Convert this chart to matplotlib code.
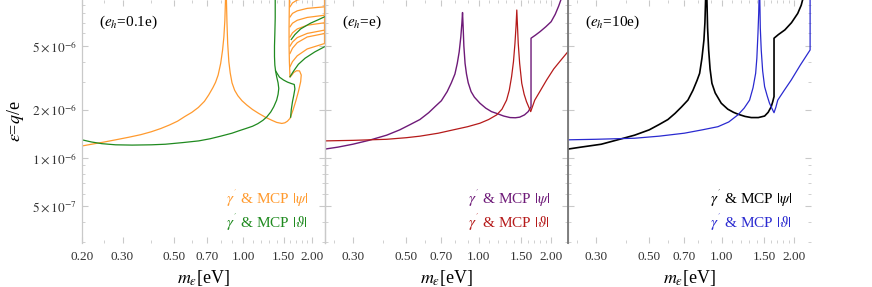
import numpy as np
import matplotlib.pyplot as plt
from matplotlib.ticker import FixedLocator, FuncFormatter, NullFormatter

plt.rcParams['font.family'] = ['Liberation Serif', 'DejaVu Serif']
plt.rcParams['mathtext.fontset'] = 'stix'

TOP = 1e-5  # curves that run off the top of the frame
u = 1e-6

# ---- panel 1 : e_h = 0.1 e ----
psi1_left_m = [0.2, 0.2, 0.22, 0.25, 0.28, 0.32, 0.36, 0.40, 0.44, 0.48, 0.52, 0.56, 0.60, 0.64,
               0.68, 0.71, 0.74, 0.76, 0.78, 0.80, 0.815, 0.826, 0.834, 0.840]
psi1_left_e = [TOP / u, 1.19, 1.22, 1.26, 1.30, 1.35, 1.40, 1.46, 1.53, 1.61, 1.70, 1.82, 1.93, 2.07,
               2.26, 2.48, 2.75, 2.97, 3.3, 3.9, 4.7, 5.7, 7.2, TOP / u]
psi1_right_m = [0.847, 0.852, 0.858, 0.868, 0.88, 0.896, 0.92, 0.95, 0.99, 1.04, 1.10, 1.17, 1.25,
                1.336, 1.40, 1.474, 1.52, 1.56, 1.60,
                1.65, 1.70, 1.74, 1.78, 1.79, 1.76, 1.71, 1.66, 1.63, 1.60, 1.59, 1.585, 1.585, 1.59]
psi1_right_e = [TOP / u, 7.0, 5.2, 4.0, 3.4, 2.95, 2.65, 2.45, 2.28, 2.14, 2.01, 1.90, 1.80,
                1.72, 1.67, 1.645, 1.66, 1.70, 1.77,
                2.0, 2.3, 2.6, 3.0, 3.3, 3.5, 3.51, 3.42, 3.3, 3.2, 4.0, 5.0, 6.5, TOP / u]
psi1_fan_m = [1.60, 1.64, 1.72, 1.90, 2.27]
psi1_fan_e = [[3.72, 4.0, 4.35, 4.8, 5.2],
              [4.5, 4.85, 5.25, 5.7, 6.0],
              [5.0, 5.3, 5.65, 6.0, 6.3],
              [5.7, 6.05, 6.4, 6.75, 7.0],
              [6.6, 6.95, 7.25, 7.55, 7.8],
              [7.6, 8.0, 8.3, 8.6, 8.8],
              [8.8, 9.3, 9.7, TOP / u, TOP / u]]
psi1_edge_m = [2.265, 2.265]
psi1_edge_e = [5.2, TOP / u]

th1_main_m = [0.20, 0.22, 0.244, 0.28, 0.33, 0.40, 0.46, 0.55, 0.642, 0.72, 0.80, 0.896, 0.96, 1.03,
              1.10, 1.16, 1.22, 1.27, 1.32, 1.36, 1.40, 1.42, 1.43, 1.42, 1.40, 1.385, 1.375, 1.37,
              1.37, 1.375, 1.38, 1.38]
th1_main_e = [1.30, 1.26, 1.23, 1.21, 1.205, 1.21, 1.22, 1.25, 1.28, 1.32, 1.37, 1.43, 1.48, 1.53,
              1.58, 1.64, 1.72, 1.81, 1.94, 2.09, 2.30, 2.50, 2.72, 2.95, 3.22, 3.5, 3.8, 4.3,
              5.0, 6.0, 7.5, TOP / u]
th1_loop_m = [1.385, 1.44, 1.50, 1.56, 1.62, 1.67, 1.68, 1.66, 1.64, 1.62, 1.61]
th1_loop_e = [3.5, 3.2, 3.07, 2.98, 2.92, 2.88, 2.7, 2.45, 2.25, 2.0, 1.8]
th1_fan_m = [[1.60, 1.66, 1.74, 1.86, 2.05, 2.27], [1.62, 1.68, 1.78, 1.96, 2.12, 2.27]]
th1_fan_e = [[3.22, 3.5, 3.85, 4.2, 4.6, 4.97], [5.5, 5.9, 6.4, 6.94, 7.3, 7.64]]

# ---- panel 2 : e_h = e ----
psi2_m = [0.23, 0.26, 0.30, 0.35, 0.415, 0.47, 0.52, 0.57, 0.62, 0.66, 0.70, 0.74, 0.77, 0.797,
          0.815, 0.83, 0.843, 0.852, 0.857, 0.862, 0.868, 0.878, 0.89, 0.905, 0.93, 0.96, 1.012,
          1.07, 1.13, 1.188, 1.27, 1.35, 1.42, 1.48, 1.55, 1.606, 1.65,
          1.65, 1.72, 1.80, 1.90, 2.00, 2.08, 2.15, 2.21]
psi2_e = [1.138, 1.17, 1.22, 1.29, 1.39, 1.50, 1.62, 1.74, 1.92, 2.10, 2.28, 2.60, 2.95, 3.35,
          3.9, 4.6, 5.7, 7.0, 8.1, 6.6, 5.0, 3.9, 3.35, 2.95, 2.60, 2.40, 2.20,
          2.05, 1.95, 1.90, 1.83, 1.79, 1.785, 1.80, 1.86, 1.95, 2.09,
          5.6, 5.85, 6.16, 6.6, 7.1, 7.9, 8.9, TOP / u]
th2_m = [0.23, 0.30, 0.415, 0.50, 0.57, 0.68, 0.784, 0.90, 1.012, 1.10, 1.188, 1.25, 1.306, 1.34,
         1.37, 1.395, 1.415, 1.43, 1.44, 1.45, 1.46, 1.48, 1.51, 1.545, 1.58, 1.615, 1.645,
         1.67, 1.71, 1.80, 1.915, 2.05, 2.20, 2.35]
th2_e = [1.28, 1.29, 1.31, 1.34, 1.37, 1.43, 1.50, 1.57, 1.65, 1.74, 1.86, 2.02, 2.30, 2.65,
         3.22, 4.0, 5.2, 6.7, 8.4, 6.6, 5.2, 3.9, 2.93, 2.5, 2.25, 2.08, 1.95,
         2.08, 2.30, 2.62, 3.07, 3.6, 4.1, 4.62]

# ---- panel 3 : e_h = 10 e ----
psi3_m = [0.23, 0.26, 0.316, 0.37, 0.435, 0.50, 0.55, 0.598, 0.64, 0.68, 0.724, 0.76, 0.79, 0.81,
          0.828, 0.844, 0.852, 0.858, 0.868, 0.874, 0.883, 0.895, 0.911, 0.94, 0.996, 1.06, 1.12,
          1.168, 1.25, 1.327, 1.42, 1.508, 1.56, 1.606, 1.63, 1.65,
          1.65, 1.72, 1.83, 1.95, 2.07, 2.14, 2.18]
psi3_e = [1.138, 1.17, 1.22, 1.30, 1.39, 1.50, 1.62, 1.74, 1.90, 2.08, 2.30, 2.65, 3.05, 3.38,
          4.2, 5.46, 7.0, TOP / u, TOP / u, 6.5, 4.73, 3.6, 2.93, 2.55, 2.20, 2.02, 1.93,
          1.88, 1.82, 1.79, 1.79, 1.83, 1.93, 2.09, 2.25, 2.42,
          5.6, 5.9, 6.31, 7.0, 8.0, 9.0, TOP / u]
th3_m = [0.23, 0.30, 0.435, 0.55, 0.70, 0.83, 0.965, 1.07, 1.168, 1.24, 1.306, 1.35, 1.384, 1.40,
         1.415, 1.425, 1.43, 1.44, 1.447, 1.46, 1.48, 1.508, 1.545, 1.58, 1.62, 1.65,
         1.68, 1.71, 1.82, 1.945, 2.12, 2.33, 2.33]
th3_e = [1.30, 1.31, 1.33, 1.37, 1.43, 1.50, 1.57, 1.68, 1.86, 2.05, 2.30, 2.75, 3.38, 4.2,
         6.0, 8.0, TOP / u, TOP / u, 6.5, 4.73, 3.5, 2.79, 2.45, 2.20, 2.03, 1.92,
         2.08, 2.30, 2.65, 3.07, 3.8, 4.73, TOP / u]

xticks = [0.2, 0.3, 0.5, 0.7, 1.0, 1.5, 2.0]
xminor = [0.25, 0.4, 0.6, 0.8, 0.9, 1.1, 1.2, 1.3, 1.4, 1.6, 1.7, 1.8, 1.9]
yticks = [5e-7, 1e-6, 2e-6, 5e-6]
yticklabels = [r'$5\times10^{-7}$', r'$1\times10^{-6}$', r'$2\times10^{-6}$', r'$5\times10^{-6}$']
yminor = [3e-7, 4e-7, 6e-7, 7e-7, 8e-7, 9e-7, 3e-6, 4e-6, 6e-6, 7e-6, 8e-6, 9e-6]
panel_labels = [r'($e_h$=0.1e)', r'($e_h$=e)', r'($e_h$=10e)']
xlims = [(0.2, 2.27), (0.23, 2.35), (0.23, 2.35)]

c_orange, c_green = '#ff9a2e', '#1f8a1f'
c_purple, c_red = '#6e1a78', '#b51a1a'
c_black, c_blue = '#000000', '#2a2ad0'
frame = '#c9c9c9'


def sc(vals):
    return np.array(vals) * u


fig = plt.figure(figsize=(8.72, 2.87), dpi=100)
W, H = 872, 287
axes = []
for i, x0 in enumerate([82, 325, 568]):
    ax = fig.add_axes([x0 / W, 44 / H, 243 / W, 243 / H])
    axes.append(ax)
    ax.set_xscale('log')
    ax.set_yscale('log')
    ax.set_xlim(*xlims[i])
    ax.set_ylim(2.95e-7, 9.7e-6)
    ax.xaxis.set_major_locator(FixedLocator(xticks))
    ax.xaxis.set_minor_locator(FixedLocator(xminor))
    ax.xaxis.set_major_formatter(FuncFormatter(lambda v, p: '%.2f' % v))
    ax.xaxis.set_minor_formatter(NullFormatter())
    ax.yaxis.set_major_locator(FixedLocator(yticks))
    ax.yaxis.set_minor_locator(FixedLocator(yminor))
    ax.yaxis.set_minor_formatter(NullFormatter())
    if i == 0:
        ax.yaxis.set_major_formatter(FuncFormatter(lambda v, p: yticklabels[yticks.index(v)] if v in yticks else ''))
        ax.set_ylabel(r'$\epsilon$=$q$/e', fontsize=13, labelpad=4)
    else:
        ax.yaxis.set_major_formatter(NullFormatter())
    ax.tick_params(which='both', direction='in', top=True, right=True, colors=frame,
                   labelcolor='#333333', labelsize=9.5)
    ax.tick_params(which='major', length=4, width=0.8)
    ax.tick_params(which='minor', length=2, width=0.6)
    ax.tick_params(axis='x', pad=6)
    for s in ['top', 'bottom']:
        ax.spines[s].set_visible(False)
    for s in ['left', 'right']:
        ax.spines[s].set_color(frame)
        ax.spines[s].set_linewidth(0.9)
    ax.set_xlabel(r'$m_\epsilon$[eV]', fontsize=13, labelpad=3)
    ax.text(0.07, 0.91, panel_labels[i], transform=ax.transAxes, fontsize=11, va='center')
    ax.patch.set_alpha(0)

axes[2].spines['right'].set_visible(False)
axes[2].spines['left'].set_color('#777777')
axes[2].spines['left'].set_linewidth(1.3)
axes[2].spines['left'].set_zorder(5)

# panel 1
ax = axes[0]
kw = dict(color=c_orange, lw=0.9)
ax.plot(psi1_left_m, sc(psi1_left_e), **kw)
ax.plot(psi1_right_m, sc(psi1_right_e), **kw)
for fe in psi1_fan_e:
    ax.plot(psi1_fan_m, sc(fe), **kw)
ax.plot(psi1_edge_m, sc(psi1_edge_e), color=c_orange, lw=1.6)
ax.plot(th1_main_m, sc(th1_main_e), color=c_green, lw=0.9)
ax.plot(th1_loop_m, sc(th1_loop_e), color=c_green, lw=0.9)
for fm, fe in zip(th1_fan_m, th1_fan_e):
    ax.plot(fm, sc(fe), color=c_green, lw=0.9)

# panel 2
axes[1].plot(psi2_m, sc(psi2_e), color=c_purple, lw=1.0)
axes[1].plot(th2_m, sc(th2_e), color=c_red, lw=0.9)

# panel 3
axes[2].plot(psi3_m, sc(psi3_e), color=c_black, lw=1.2)
axes[2].plot(th3_m, sc(th3_e), color=c_blue, lw=0.9)

legend_text = [(r"$\gamma^{'}$ & MCP $|\psi|$", r"$\gamma^{'}$ & MCP $|\vartheta|$")] * 3
legend_cols = [(c_orange, c_green), (c_purple, c_red), (c_black, c_blue)]
legend_right = [308, 550, 792]
for i in range(3):
    for j, yy in enumerate([198, 222]):
        fig.text(legend_right[i] / W, 1 - yy / H, legend_text[i][j], color=legend_cols[i][j],
                 fontsize=11, ha='right', va='center')

fig.savefig('out.png', dpi=100)
